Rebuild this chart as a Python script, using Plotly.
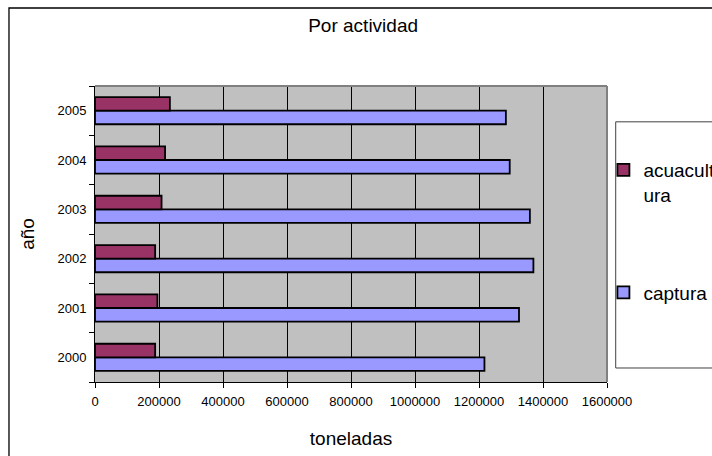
import plotly.graph_objects as go

years = ["2000", "2001", "2002", "2003", "2004", "2005"]
captura = [1217000, 1325000, 1370000, 1359000, 1296000, 1284000]
acuacultura = [188000, 195000, 188000, 208000, 219000, 234000]
x_ticks = [0, 200000, 400000, 600000, 800000, 1000000, 1200000, 1400000, 1600000]

FONT = "Liberation Sans, Arial, sans-serif"

fig = go.Figure()
fig.add_trace(go.Bar(
    y=years, x=captura, orientation="h", name="captura", legendgroup="b", legendrank=2,
    marker=dict(color="#9999FF", line=dict(color="#000000", width=1.8)),
))
fig.add_trace(go.Bar(
    y=years, x=acuacultura, orientation="h", name="acuacult<br>ura", legendgroup="a",
    legendrank=1,
    marker=dict(color="#993366", line=dict(color="#000000", width=1.8)),
))

fig.update_layout(
    width=712, height=456,
    margin=dict(l=95, r=105, t=86, b=74, autoexpand=False),
    paper_bgcolor="white", plot_bgcolor="#C0C0C0",
    barmode="group", bargap=0.45, bargroupgap=0,
    font=dict(family=FONT, color="#000000", size=13),
    title=dict(text="Por actividad", x=0.51, xanchor="center", xref="container",
               y=1 - 25 / 456, yanchor="middle", yref="container",
               font=dict(size=19, family=FONT, color="#000")),
    showlegend=True,
    legend=dict(traceorder="grouped", tracegroupgap=70,
                x=0.993, xanchor="left", y=0.78, yanchor="top",
                font=dict(size=19, family=FONT), bgcolor="rgba(0,0,0,0)",
                borderwidth=0, valign="top"),
    xaxis=dict(range=[0, 1600000], tickvals=x_ticks, ticktext=[str(v) for v in x_ticks],
               showgrid=True, gridcolor="#000000", gridwidth=1,
               showline=True, linecolor="#000000", linewidth=1,
               ticks="outside", ticklen=5, tickcolor="#000", zeroline=False,
               ticklabelstandoff=2,
               title=dict(text="toneladas", font=dict(size=19, family=FONT), standoff=24),
               tickfont=dict(size=13)),
    yaxis=dict(type="category", showgrid=False, showline=True, linecolor="#000000",
               linewidth=1, ticks="outside", ticklen=5, tickcolor="#000",
               tickson="boundaries", ticklabelstandoff=5,
               title=dict(text="año", font=dict(size=19, family=FONT), standoff=17),
               tickfont=dict(size=13)),
    shapes=[
        # plot area top/right border
        dict(type="line", xref="paper", yref="paper", x0=0, x1=1, y0=1, y1=1,
             line=dict(color="#808080", width=2)),
        dict(type="line", xref="paper", yref="paper", x0=1, x1=1, y0=0, y1=1,
             line=dict(color="#808080", width=2)),
        # legend box
        dict(type="rect", xref="paper", yref="paper", x0=1.017, x1=1.25, y0=0.0473, y1=0.879,
             line=dict(color="#404040", width=1)),
        # chart outer border
        dict(type="rect", xref="paper", yref="paper", x0=-0.168, x1=1.3, y0=-0.5, y1=1.2635,
             line=dict(color="#000000", width=1.3)),
    ],
)

fig.write_html("out.html")
